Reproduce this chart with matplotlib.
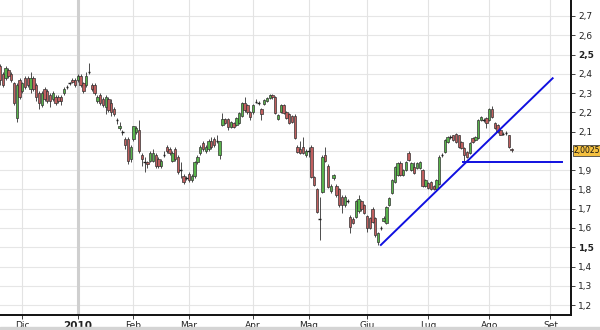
import numpy as np
import matplotlib
matplotlib.use("Agg")
import matplotlib.pyplot as plt
from matplotlib.patches import Rectangle

# daily candles, one per trading day, first one 8 sessions before 1 Dec 2009
first_bar = -8
opens = [
    2.44, 2.40, 2.38, 2.42, 2.40, 2.35, 2.17, 2.37, 2.31, 2.38,
    2.38, 2.32, 2.38, 2.34, 2.30, 2.24, 2.32, 2.31, 2.29, 2.27,
    2.28, 2.28, 2.28, 2.30, 2.33, 2.35, 2.37, 2.37, 2.37, 2.39,
    2.35, 2.34, 2.41, 2.34, 2.34, 2.26, 2.29, 2.27, 2.23, 2.27,
    2.25, 2.22, 2.16, 2.12, 2.10, 2.06, 2.06, 1.96, 2.06, 2.10,
    2.11, 1.98, 1.94, 1.94, 1.95, 1.95, 1.98, 1.96, 1.92, 1.98,
    2.02, 2.01, 1.95, 2.01, 1.97, 1.90, 1.87, 1.86, 1.88, 1.85,
    1.87, 1.94, 1.99, 2.04, 2.00, 2.01, 2.05, 2.06, 2.05, 1.98,
    2.134, 2.165, 2.165, 2.125, 2.145, 2.135, 2.145, 2.18, 2.25, 2.24,
    2.20, 2.20, 2.255, 2.25, 2.22, 2.245, 2.26, 2.275, 2.29, 2.28,
    2.165, 2.20, 2.24, 2.20, 2.19, 2.18, 2.18, 2.02, 2.01, 2.02,
    1.98, 2.00, 2.02, 1.865, 1.80, 1.647, 1.787, 1.98, 1.92, 1.79,
    1.86, 1.82, 1.80, 1.76, 1.72, 1.74, 1.655, 1.645, 1.655, 1.69,
    1.74, 1.72, 1.66, 1.65, 1.70, 1.65, 1.527, 1.60, 1.635, 1.625,
    1.72, 1.78, 1.84, 1.875, 1.935, 1.875, 1.90, 1.99, 1.90, 1.915,
    1.91, 1.91, 1.90, 1.82, 1.835, 1.84, 1.82, 1.80, 1.83, 1.98,
    1.995, 2.045, 2.07, 2.08, 2.09, 2.08, 2.045, 2.015, 1.995, 1.99,
    2.065, 2.057, 2.065, 2.16, 2.16, 2.17, 2.16, 2.22, 2.145, 2.135,
    2.11, 2.09, 2.095, 2.08, 2.01,
]
highs = [
    2.45, 2.41, 2.44, 2.43, 2.41, 2.36, 2.35, 2.38, 2.36, 2.39,
    2.39, 2.41, 2.39, 2.35, 2.31, 2.31, 2.33, 2.32, 2.30, 2.31,
    2.29, 2.29, 2.29, 2.33, 2.34, 2.36, 2.38, 2.38, 2.40, 2.40,
    2.36, 2.41, 2.455, 2.35, 2.35, 2.29, 2.30, 2.28, 2.29, 2.28,
    2.27, 2.23, 2.17, 2.15, 2.11, 2.07, 2.07, 2.03, 2.13, 2.13,
    2.16, 1.99, 1.97, 1.95, 2.00, 2.01, 1.99, 1.97, 1.96, 2.00,
    2.03, 2.02, 2.00, 2.02, 1.98, 1.94, 1.88, 1.87, 1.89, 1.88,
    1.95, 1.98, 2.03, 2.05, 2.03, 2.06, 2.07, 2.07, 2.08, 2.05,
    2.195, 2.17, 2.17, 2.155, 2.15, 2.175, 2.20, 2.255, 2.28, 2.245,
    2.205, 2.245, 2.27, 2.26, 2.225, 2.27, 2.28, 2.295, 2.295, 2.285,
    2.19, 2.245, 2.245, 2.205, 2.195, 2.185, 2.19, 2.03, 2.05, 2.07,
    2.01, 2.02, 2.03, 1.87, 1.81, 1.76, 1.98, 2.02, 1.93, 1.83,
    1.88, 1.83, 1.81, 1.77, 1.77, 1.75, 1.665, 1.655, 1.745, 1.77,
    1.745, 1.725, 1.665, 1.655, 1.71, 1.655, 1.58, 1.61, 1.66, 1.715,
    1.76, 1.855, 1.92, 1.94, 1.95, 1.905, 1.945, 2.00, 1.94, 1.94,
    1.94, 1.945, 1.905, 1.855, 1.84, 1.845, 1.825, 1.855, 1.98, 1.99,
    2.06, 2.075, 2.08, 2.085, 2.095, 2.085, 2.05, 2.02, 2.00, 2.045,
    2.07, 2.075, 2.165, 2.18, 2.17, 2.175, 2.225, 2.235, 2.15, 2.14,
    2.115, 2.10, 2.105, 2.085, 2.015,
]
lows = [
    2.34, 2.33, 2.37, 2.38, 2.36, 2.24, 2.15, 2.27, 2.30, 2.32,
    2.33, 2.30, 2.31, 2.26, 2.22, 2.23, 2.26, 2.25, 2.23, 2.26,
    2.24, 2.25, 2.24, 2.29, 2.32, 2.34, 2.35, 2.33, 2.36, 2.33,
    2.30, 2.33, 2.40, 2.31, 2.29, 2.25, 2.24, 2.23, 2.19, 2.20,
    2.18, 2.18, 2.14, 2.11, 2.08, 2.01, 1.93, 1.94, 2.05, 2.09,
    1.99, 1.92, 1.89, 1.91, 1.94, 1.94, 1.91, 1.91, 1.91, 1.97,
    1.99, 1.98, 1.94, 1.95, 1.88, 1.86, 1.83, 1.85, 1.84, 1.84,
    1.86, 1.93, 1.98, 2.00, 1.99, 2.00, 2.01, 2.02, 2.04, 1.96,
    2.13, 2.14, 2.11, 2.12, 2.12, 2.13, 2.14, 2.175, 2.20, 2.19,
    2.16, 2.19, 2.25, 2.24, 2.16, 2.24, 2.255, 2.27, 2.27, 2.19,
    2.16, 2.195, 2.19, 2.165, 2.14, 2.145, 2.06, 1.99, 1.985, 1.985,
    1.97, 1.97, 1.86, 1.82, 1.68, 1.538, 1.78, 1.94, 1.81, 1.78,
    1.85, 1.76, 1.71, 1.68, 1.71, 1.73, 1.575, 1.62, 1.65, 1.68,
    1.69, 1.67, 1.58, 1.595, 1.625, 1.555, 1.512, 1.59, 1.63, 1.62,
    1.715, 1.775, 1.835, 1.87, 1.87, 1.87, 1.895, 1.95, 1.895, 1.88,
    1.905, 1.905, 1.815, 1.815, 1.80, 1.795, 1.795, 1.795, 1.825, 1.97,
    1.99, 2.04, 2.06, 2.05, 2.04, 2.015, 2.01, 1.945, 1.965, 1.985,
    2.04, 2.05, 2.06, 2.155, 2.15, 2.12, 2.155, 2.17, 2.115, 2.095,
    2.08, 2.08, 2.085, 2.015, 1.995,
]
closes = [
    2.37, 2.34, 2.43, 2.39, 2.37, 2.25, 2.34, 2.28, 2.35, 2.33,
    2.34, 2.38, 2.32, 2.28, 2.25, 2.30, 2.27, 2.26, 2.26, 2.30,
    2.25, 2.26, 2.26, 2.32, 2.33, 2.35, 2.36, 2.34, 2.39, 2.34,
    2.31, 2.39, 2.41, 2.32, 2.30, 2.28, 2.25, 2.24, 2.28, 2.21,
    2.20, 2.19, 2.16, 2.13, 2.10, 2.03, 1.95, 2.02, 2.13, 2.12,
    2.00, 1.96, 1.94, 1.93, 1.99, 1.99, 1.92, 1.92, 1.95, 1.98,
    2.00, 1.99, 1.99, 1.96, 1.89, 1.90, 1.84, 1.86, 1.85, 1.87,
    1.94, 1.97, 2.02, 2.01, 2.02, 2.05, 2.02, 2.03, 2.05, 2.05,
    2.164, 2.145, 2.125, 2.15, 2.125, 2.17, 2.195, 2.25, 2.21, 2.20,
    2.175, 2.24, 2.255, 2.25, 2.19, 2.265, 2.275, 2.29, 2.28, 2.195,
    2.185, 2.24, 2.195, 2.17, 2.145, 2.15, 2.065, 1.995, 1.99, 1.99,
    2.00, 2.00, 1.865, 1.825, 1.685, 1.647, 1.968, 1.945, 1.815, 1.82,
    1.875, 1.77, 1.72, 1.72, 1.76, 1.74, 1.605, 1.625, 1.74, 1.75,
    1.70, 1.68, 1.60, 1.60, 1.63, 1.565, 1.574, 1.60, 1.652, 1.71,
    1.755, 1.85, 1.915, 1.935, 1.875, 1.90, 1.94, 1.955, 1.935, 1.885,
    1.935, 1.94, 1.82, 1.85, 1.81, 1.80, 1.80, 1.85, 1.97, 1.98,
    2.055, 2.07, 2.07, 2.055, 2.045, 2.02, 2.015, 1.98, 1.97, 2.04,
    2.045, 2.07, 2.16, 2.175, 2.16, 2.145, 2.22, 2.175, 2.12, 2.10,
    2.085, 2.09, 2.095, 2.02, 2.0025,
]

# month boundaries on the trading-day axis
month_pos = [0, 20, 40, 60, 83, 103, 124, 146, 168, 190]
month_labels = ['Dic', '2010', 'Feb', 'Mar', 'Apr', 'Mag', 'Giu', 'Lug', 'Ago', 'Set']
price_ticks = [1.2, 1.3, 1.4, 1.5, 1.6, 1.7, 1.8, 1.9, 2.0, 2.1, 2.2, 2.3, 2.4, 2.5, 2.6, 2.7]
last_price = 2.0025

# drawn lines: rising trendline and horizontal support
trend_x = [129, 190.8]
trend_y = [1.512, 2.377]
support_x = [158.5, 194.3]
support_y = [1.944, 1.944]

GREEN = '#58b34b'
RED = '#c05e5e'
EDGE = '#333333'


def fmt_price(v):
    return ('%.1f' % v).replace('.', ',')


def main():
    fig = plt.figure(figsize=(6, 3.3), dpi=100)
    fig.patches.append(Rectangle((0, 0), 1, 3 / 330, transform=fig.transFigure,
                                 color='#d4d4d4', zorder=0))
    ax = fig.add_axes([0, 15 / 330, 571 / 600, 315 / 330])
    ax.set_xlim(-8.02, 197.4)
    ax.set_ylim(1.1485, 2.783)

    # grid
    for p in price_ticks:
        ax.axhline(p, color='#e6e6e6', lw=0.8, zorder=0)
    for pos, lab in zip(month_pos, month_labels):
        if lab == '2010':
            ax.axvline(pos, color='#cfcfcf', lw=2.2, zorder=0)
        else:
            ax.axvline(pos, color='#e3e3e3', lw=0.8, zorder=0)

    x = np.arange(first_bar, first_bar + len(closes))
    o = np.array(opens)
    h = np.array(highs)
    l = np.array(lows)
    c = np.array(closes)

    ax.vlines(x, l, h, color='#303030', lw=0.6, zorder=2)
    flat = np.abs(c - o) < 0.004
    up = (c > o) & ~flat
    down = (c < o) & ~flat
    ax.bar(x[up], (c - o)[up], bottom=o[up], width=0.85, color=GREEN,
           edgecolor=EDGE, linewidth=0.5, zorder=3)
    ax.bar(x[down], (c - o)[down], bottom=o[down], width=0.85, color=RED,
           edgecolor=EDGE, linewidth=0.5, zorder=3)
    ax.hlines(c[flat], x[flat] - 0.45, x[flat] + 0.45, color='#202020', lw=1.0, zorder=3)

    ax.plot(trend_x, trend_y, color='#1010e0', lw=1.4, zorder=4)
    ax.plot(support_x, support_y, color='#1010e0', lw=1.4, zorder=4)

    # axes frame
    for side in ('top', 'left'):
        ax.spines[side].set_visible(False)
    for side in ('bottom', 'right'):
        ax.spines[side].set_linewidth(1.4)
        ax.spines[side].set_color('#111111')

    # 2,0 is hidden behind the last-price box in the original
    ax.yaxis.tick_right()
    ax.set_yticks(price_ticks)
    ax.set_yticklabels(['' if abs(p - 2.0) < 1e-9 else fmt_price(p) for p in price_ticks])
    ax.tick_params(axis='y', length=3, width=0.6, pad=2, labelsize=6.5, colors='#222222')
    for t, p in zip(ax.get_yticklabels(), price_ticks):
        if abs(p - 1.5) < 1e-9 or abs(p - 2.5) < 1e-9:
            t.set_fontweight('bold')

    ax.set_xticks(month_pos)
    ax.set_xticklabels(month_labels)
    ax.tick_params(axis='x', length=3, width=0.6, pad=1.5, labelsize=6.5, colors='#222222')
    for t in ax.get_xticklabels():
        if t.get_text() == '2010':
            t.set_fontweight('bold')
            t.set_fontsize(7.5)

    ax.text(1.004, last_price, ('%.4f' % last_price).replace('.', ','),
            transform=ax.get_yaxis_transform(), ha='left', va='center', fontsize=5.5,
            color='#111111', clip_on=False, zorder=6,
            bbox=dict(boxstyle='square,pad=0.1', fc='#f4c040', ec='#444444', lw=0.6))

    fig.savefig('out.png', dpi=100)


if __name__ == "__main__":
    main()
